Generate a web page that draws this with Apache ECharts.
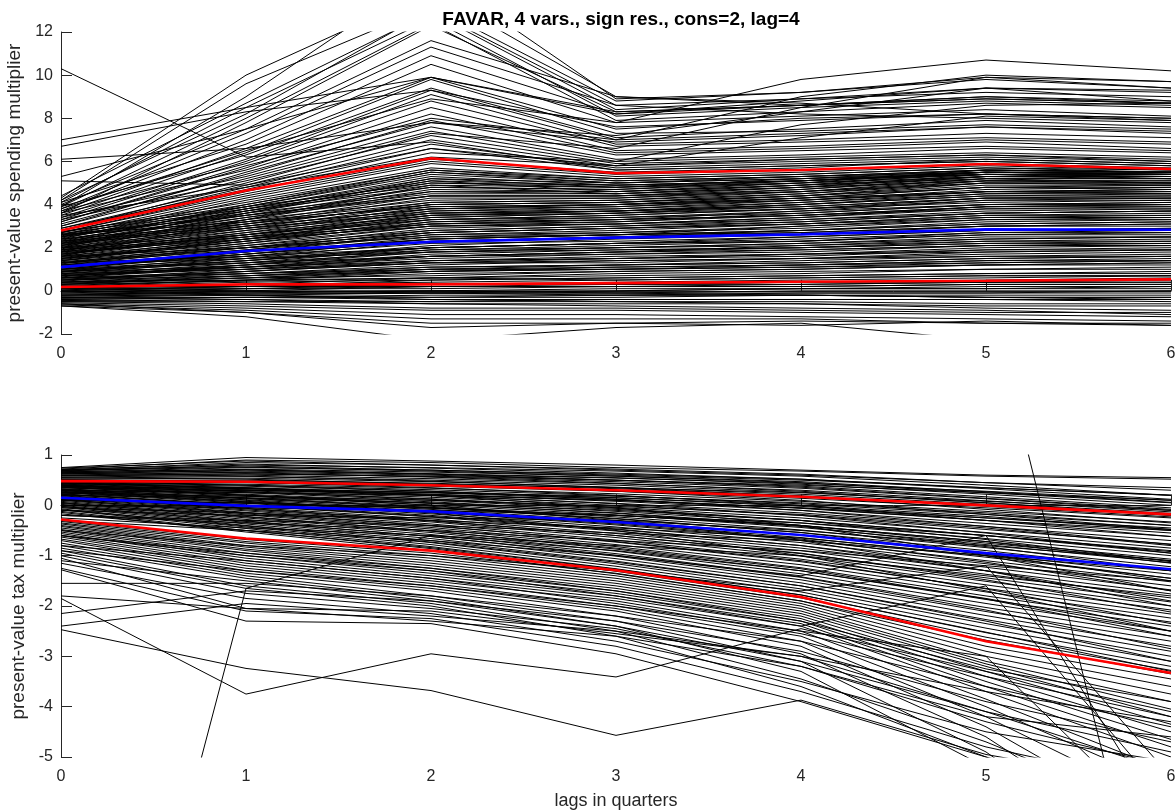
<!DOCTYPE html>
<html>
<head>
<meta charset="utf-8">
<title>FAVAR present-value multipliers</title>
<script src="https://cdn.jsdelivr.net/npm/echarts@6/dist/echarts.min.js"></script>
<style>
  html, body { margin: 0; padding: 0; background: #ffffff; }
  #chart { width: 1176px; height: 812px; }
</style>
</head>
<body>
<div id="chart"></div>
<script>
// Horizon (quarters) shared by every path
const lags = [0, 1, 2, 3, 4, 5, 6];
const xTickLabels = ['0', '1', '2', '3', '4', '5', '6'];

// ---- spending multiplier draws ----
const spendHighDraws = [
  [10.3, 6.2, 6.9, 5.6, 5.8, 6.0, 5.8],
  [7.0, 8.5, 9.9, 8.2, 8.6, 9.0, 8.8],
  [6.7, 8.3, 9.3, 7.6, 7.9, 8.2, 8.0],
  [6.1, 6.6, 7.8, 6.9, 7.2, 7.6, 7.3],
  [5.3, 7.5, 9.9, 8.3, 8.6, 9.0, 8.7],
  [5.1, 4.9, 6.6, 5.8, 6.1, 6.3, 6.0],
  [4.3, 10.0, 13.9, 9.0, 8.6, 8.9, 8.7],
  [4.2, 9.6, 13.2, 8.8, 9.2, 9.9, 9.7],
  [4.4, 8.7, 12.9, 8.4, 8.9, 9.4, 9.2],
  [4.1, 8.5, 12.6, 8.1, 8.5, 8.8, 8.6],
  [3.9, 8.0, 12.4, 7.9, 8.3, 8.7, 8.5],
  [4.0, 7.5, 11.6, 9.0, 8.7, 8.2, 7.9],
  [3.8, 7.3, 11.3, 8.6, 8.2, 8.0, 7.8],
  [3.7, 7.0, 10.9, 8.2, 8.8, 9.4, 9.3],
  [4.1, 6.8, 10.5, 7.8, 8.1, 8.4, 8.1],
  [3.6, 6.6, 9.9, 7.5, 8.0, 8.2, 8.0],
  [3.5, 6.4, 9.8, 7.3, 7.4, 7.7, 7.5],
  [3.9, 6.3, 9.4, 7.1, 7.5, 7.9, 7.6],
  [3.4, 6.1, 9.3, 7.0, 7.3, 7.6, 7.4],
  [3.3, 6.0, 9.1, 6.8, 7.0, 7.3, 7.1],
  [3.7, 5.9, 8.8, 6.7, 6.9, 7.1, 6.9],
  [3.2, 5.7, 8.5, 6.5, 6.7, 7.0, 6.8],
  [3.6, 5.6, 8.2, 6.4, 6.6, 6.9, 6.6],
  [3.1, 5.4, 7.9, 6.3, 6.5, 6.7, 6.5],
  [3.4, 5.3, 7.6, 6.1, 6.3, 6.6, 6.4],
  [3.0, 5.2, 7.4, 6.0, 6.2, 6.4, 6.2],
  [3.3, 5.1, 7.2, 5.9, 6.1, 6.3, 6.1],
  [2.9, 4.9, 7.0, 5.8, 6.0, 6.2, 6.0],
  [3.5, 4.8, 6.8, 5.7, 5.9, 6.1, 5.9],
  [2.9, 4.7, 6.6, 5.6, 5.8, 6.0, 5.8],
  [3.8, 6.5, 8.9, 7.8, 9.8, 10.7, 10.2],
  [3.2, 5.8, 8.0, 7.0, 9.0, 10.0, 9.7],
  [2.8, 5.0, 7.3, 6.6, 8.5, 9.9, 9.4],
  [3.0, 5.5, 7.8, 7.2, 8.3, 9.4, 8.8],
  [2.7, 4.6, 6.4, 6.0, 7.7, 8.6, 8.7],
  [2.8, 4.8, 6.2, 5.8, 7.1, 8.1, 7.9],
  [3.9, 9.0, 14.8, 8.9, 9.2, 9.8, 9.4],
  [4.2, 8.2, 13.0, 8.6, 8.9, 9.2, 9.0],
  [3.6, 7.8, 12.3, 8.3, 8.6, 8.9, 8.7]
];
const spendMidDraws = [
  [0.2, 0.4, 0.5, 0.6, 0.7, 0.8, 0.9],
  [0.25, 0.5, 0.8, 0.9, 1.0, 1.2, 1.3],
  [0.3, 0.45, 0.6, 0.5, 0.6, 0.7, 0.7],
  [0.3, 0.7, 1.1, 1.2, 1.4, 1.6, 1.6],
  [0.35, 0.6, 0.9, 1.0, 1.1, 1.3, 1.4],
  [0.4, 0.8, 1.2, 1.4, 1.5, 1.8, 1.9],
  [0.4, 0.5, 0.6, 0.8, 0.9, 1.0, 1.0],
  [0.45, 0.9, 1.4, 1.5, 1.7, 2.0, 2.1],
  [0.5, 0.7, 0.9, 1.1, 1.2, 1.4, 1.4],
  [0.5, 1.0, 1.6, 1.8, 2.1, 2.4, 2.5],
  [0.55, 0.8, 1.1, 1.2, 1.3, 1.5, 1.6],
  [0.6, 1.1, 1.7, 1.9, 2.0, 2.3, 2.3],
  [0.6, 0.9, 1.3, 1.3, 1.5, 1.7, 1.8],
  [0.65, 1.2, 1.9, 2.1, 2.3, 2.7, 2.8],
  [0.7, 1.0, 1.4, 1.6, 1.7, 1.9, 2.0],
  [0.7, 1.3, 2.0, 2.2, 2.5, 2.8, 2.9],
  [0.75, 1.1, 1.5, 1.7, 1.9, 2.1, 2.2],
  [0.8, 1.4, 2.1, 2.4, 2.6, 3.0, 3.1],
  [0.8, 1.2, 1.6, 1.8, 2.0, 2.2, 2.2],
  [0.85, 1.5, 2.3, 2.5, 2.8, 3.2, 3.3],
  [0.9, 1.3, 1.8, 2.0, 2.1, 2.3, 2.4],
  [0.9, 1.6, 2.4, 2.6, 3.0, 3.4, 3.5],
  [0.95, 1.4, 1.9, 2.0, 2.2, 2.5, 2.5],
  [1.0, 1.7, 2.5, 2.7, 2.9, 3.3, 3.4],
  [1.0, 1.5, 2.0, 2.2, 2.4, 2.7, 2.7],
  [1.05, 1.8, 2.7, 2.9, 3.2, 3.6, 3.7],
  [1.1, 1.6, 2.2, 2.3, 2.5, 2.8, 2.9],
  [1.1, 1.9, 2.8, 3.0, 3.3, 3.7, 3.8],
  [1.15, 1.7, 2.3, 2.5, 2.7, 3.0, 3.0],
  [1.2, 2.0, 2.9, 3.1, 3.4, 3.9, 4.0],
  [1.2, 1.8, 2.4, 2.6, 2.8, 3.1, 3.2],
  [1.25, 2.1, 3.0, 3.2, 3.6, 4.0, 4.1],
  [1.3, 1.9, 2.6, 2.7, 3.0, 3.3, 3.3],
  [1.3, 2.2, 3.2, 3.3, 3.7, 4.2, 4.3],
  [1.35, 2.0, 2.7, 2.9, 3.1, 3.5, 3.5],
  [1.4, 2.3, 3.3, 3.5, 3.8, 4.3, 4.4],
  [1.4, 2.1, 2.8, 3.0, 3.2, 3.6, 3.7],
  [1.45, 2.4, 3.4, 3.6, 4.0, 4.5, 4.5],
  [1.5, 2.2, 3.0, 3.1, 3.4, 3.8, 3.8],
  [1.5, 2.5, 3.6, 3.7, 4.1, 4.6, 4.7],
  [1.55, 2.3, 3.1, 3.3, 3.5, 3.9, 4.0],
  [1.6, 2.6, 3.7, 3.8, 4.2, 4.7, 4.8],
  [1.6, 2.4, 3.2, 3.4, 3.6, 4.0, 4.1],
  [1.65, 2.7, 3.8, 3.9, 4.3, 4.8, 4.9],
  [1.7, 2.5, 3.3, 3.5, 3.8, 4.2, 4.2],
  [1.7, 2.8, 3.9, 4.0, 4.4, 5.0, 5.0],
  [1.75, 2.6, 3.4, 3.6, 3.9, 4.3, 4.3],
  [1.8, 2.9, 4.0, 4.1, 4.5, 5.1, 5.1],
  [1.8, 2.7, 3.5, 3.7, 4.0, 4.4, 4.4],
  [1.85, 3.0, 4.1, 4.2, 4.6, 5.2, 5.2],
  [1.9, 2.8, 3.6, 3.8, 4.1, 4.5, 4.6],
  [1.9, 3.1, 4.3, 4.3, 4.7, 5.3, 5.3],
  [1.95, 2.9, 3.7, 3.9, 4.2, 4.6, 4.7],
  [2.0, 3.2, 4.4, 4.4, 4.8, 5.4, 5.4],
  [2.0, 3.0, 3.8, 4.0, 4.3, 4.8, 4.8],
  [2.05, 3.3, 4.6, 4.5, 4.9, 5.5, 5.5],
  [2.1, 3.1, 4.0, 4.1, 4.4, 4.9, 4.9],
  [2.1, 3.4, 4.7, 4.6, 5.0, 5.6, 5.5],
  [2.15, 3.2, 4.1, 4.2, 4.5, 5.0, 5.0],
  [2.2, 3.5, 4.8, 4.7, 5.1, 5.5, 5.4],
  [2.2, 3.3, 4.2, 4.3, 4.6, 5.1, 5.1],
  [2.25, 3.6, 5.0, 4.8, 5.2, 5.6, 5.5],
  [2.3, 3.4, 4.4, 4.4, 4.7, 5.2, 5.2],
  [2.35, 3.7, 5.1, 4.9, 5.1, 5.5, 5.4],
  [2.4, 3.5, 4.5, 4.5, 4.8, 5.3, 5.3],
  [2.45, 3.8, 5.2, 5.0, 5.2, 5.5, 5.5],
  [2.5, 3.6, 4.6, 4.6, 4.9, 5.3, 5.3],
  [2.5, 3.9, 5.4, 5.0, 5.3, 5.6, 5.5],
  [2.55, 3.7, 4.8, 4.7, 5.0, 5.4, 5.3],
  [2.6, 4.0, 5.5, 5.1, 5.3, 5.6, 5.5],
  [2.65, 3.8, 4.9, 4.8, 5.1, 5.4, 5.4],
  [2.7, 4.1, 5.6, 5.2, 5.4, 5.7, 5.6],
  [2.75, 3.9, 5.0, 4.9, 5.1, 5.5, 5.4],
  [2.3, 3.0, 3.8, 4.0, 4.2, 4.6, 4.5],
  [1.3, 1.6, 2.0, 2.2, 2.3, 2.6, 2.7],
  [0.6, 0.8, 1.0, 1.1, 1.2, 1.4, 1.5],
  [1.9, 2.5, 3.1, 3.3, 3.5, 3.9, 3.9],
  [1.0, 1.3, 1.6, 1.7, 1.8, 2.1, 2.1],
  [2.6, 3.2, 3.9, 4.0, 4.3, 4.6, 4.6],
  [0.4, 0.6, 0.7, 0.9, 1.0, 1.2, 1.2],
  [2.5, 4.3, 5.9, 5.3, 5.5, 5.8, 5.6],
  [2.4, 4.2, 5.7, 5.2, 5.4, 5.7, 5.5],
  [2.6, 4.4, 6.0, 5.4, 5.6, 5.9, 5.7],
  [2.2, 4.0, 5.6, 5.1, 5.3, 5.5, 5.4],
  [2.0, 3.8, 5.3, 4.9, 5.1, 5.4, 5.3],
  [1.8, 3.6, 5.2, 4.8, 5.0, 5.3, 5.2],
  [2.3, 3.9, 5.5, 5.0, 5.2, 5.4, 5.2],
  [2.7, 4.5, 6.1, 5.5, 5.7, 6.1, 5.9],
  [2.1, 3.7, 5.1, 4.6, 4.9, 5.2, 5.0],
  [1.6, 3.3, 4.9, 4.5, 4.8, 5.1, 5.0],
  [0.1, 0.3, 0.6, 0.7, 0.8, 1.0, 1.1],
  [0.2, 0.5, 0.9, 1.0, 1.2, 1.3, 1.4],
  [0.0, 0.2, 0.5, 0.6, 0.7, 0.8, 0.8],
  [-0.1, 0.1, 0.3, 0.4, 0.5, 0.6, 0.7],
  [-0.2, 0.0, 0.2, 0.2, 0.3, 0.4, 0.5],
  [-0.3, -0.2, -0.1, 0.0, 0.1, 0.1, 0.2],
  [0.3, 0.6, 1.0, 1.2, 1.3, 1.5, 1.6],
  [0.5, 0.9, 1.3, 1.5, 1.6, 1.9, 1.9],
  [0.7, 1.1, 1.6, 1.8, 1.9, 2.1, 2.1],
  [0.9, 1.4, 2.0, 2.2, 2.3, 2.6, 2.6],
  [1.1, 1.7, 2.4, 2.6, 2.7, 3.0, 3.1],
  [1.3, 2.0, 2.7, 2.9, 3.1, 3.4, 3.4],
  [1.5, 2.3, 3.1, 3.2, 3.5, 3.8, 3.9],
  [1.7, 2.6, 3.5, 3.6, 3.8, 4.1, 4.2],
  [0.8, 1.0, 1.3, 1.4, 1.5, 1.6, 1.7],
  [1.2, 1.5, 1.8, 1.9, 2.0, 2.2, 2.3],
  [0.4, 0.7, 1.0, 1.0, 1.1, 1.2, 1.3],
  [1.6, 2.0, 2.5, 2.6, 2.8, 3.1, 3.2],
  [2.0, 2.6, 3.3, 3.4, 3.7, 4.0, 4.0],
  [2.4, 3.1, 4.0, 4.1, 4.4, 4.8, 4.7],
  [0.6, 1.2, 1.8, 2.0, 2.2, 2.4, 2.5],
  [1.0, 1.8, 2.6, 2.8, 3.1, 3.5, 3.6],
  [1.4, 2.4, 3.5, 3.7, 4.0, 4.4, 4.5],
  [-0.4, -0.3, -0.2, -0.2, -0.1, -0.1, 0.0],
  [-0.5, -0.5, -0.5, -0.4, -0.4, -0.4, -0.4],
  [0.2, 0.2, 0.3, 0.3, 0.4, 0.5, 0.6],
  [0.9, 1.1, 1.4, 1.5, 1.7, 1.8, 1.9],
  [1.8, 2.4, 3.0, 3.1, 3.3, 3.6, 3.7],
  [2.2, 2.9, 3.6, 3.7, 3.9, 4.3, 4.3],
  [2.6, 3.5, 4.4, 4.4, 4.6, 5.0, 4.9]
];
const spendLowDraws = [
  [0.15, 0.2, 0.2, 0.3, 0.3, 0.4, 0.4],
  [0.1, 0.1, 0.1, 0.2, 0.2, 0.3, 0.3],
  [0.05, 0.2, 0.3, 0.3, 0.4, 0.4, 0.4],
  [0.0, 0.0, 0.0, 0.1, 0.1, 0.2, 0.2],
  [-0.05, 0.1, 0.2, 0.2, 0.2, 0.3, 0.3],
  [-0.1, -0.1, -0.1, -0.1, 0.0, 0.0, 0.0],
  [-0.15, -0.05, 0.0, 0.0, 0.1, 0.1, 0.1],
  [-0.2, -0.2, -0.3, -0.3, -0.2, -0.2, -0.2],
  [-0.25, -0.15, -0.1, -0.1, -0.1, -0.1, -0.1],
  [-0.3, -0.3, -0.4, -0.4, -0.4, -0.4, -0.5],
  [-0.35, -0.3, -0.3, -0.2, -0.2, -0.3, -0.3],
  [-0.4, -0.5, -0.6, -0.6, -0.6, -0.7, -0.7],
  [-0.45, -0.4, -0.5, -0.5, -0.5, -0.6, -0.6],
  [-0.5, -0.6, -0.8, -0.8, -0.9, -1.0, -1.0],
  [-0.55, -0.7, -0.9, -0.9, -1.0, -1.1, -1.2],
  [-0.6, -0.8, -1.1, -1.1, -1.2, -1.3, -1.4],
  [-0.65, -0.9, -1.3, -1.3, -1.3, -1.5, -1.6],
  [-0.7, -1.0, -1.7, -1.5, -1.4, -1.5, -1.5],
  [-0.7, -1.2, -2.3, -1.7, -1.5, -2.3, -2.5],
  [-0.6, -1.0, -1.5, -1.5, -1.6, -1.4, -1.6],
  [0.0, -0.2, -0.4, -0.5, -0.6, -0.8, -0.9],
  [0.1, 0.0, -0.1, -0.2, -0.2, -0.3, -0.4],
  [-0.3, -0.4, -0.6, -0.7, -0.8, -0.9, -1.1],
  [-0.2, -0.1, 0.0, -0.1, -0.2, -0.3, -0.3],
  [0.15, 0.3, 0.4, 0.5, 0.6, 0.7, 0.7]
];
// spending bands: upper, median, lower
const spendUpper = [2.8, 4.65, 6.15, 5.45, 5.6, 5.88, 5.65];
const spendMedian = [1.1, 1.85, 2.27, 2.47, 2.62, 2.85, 2.83];
const spendLower = [0.18, 0.3, 0.3, 0.36, 0.42, 0.47, 0.53];

// ---- tax multiplier draws ----
const taxHighDraws = [
  [0.75, 0.95, 0.88, 0.8, 0.7, 0.6, 0.55],
  [0.72, 0.9, 0.85, 0.75, 0.68, 0.58, 0.52],
  [0.7, 0.85, 0.8, 0.72, 0.62, 0.45, 0.3],
  [0.68, 0.8, 0.75, 0.68, 0.58, 0.4, 0.2],
  [0.66, 0.75, 0.7, 0.62, 0.52, 0.33, 0.12],
  [0.64, 0.72, 0.66, 0.58, 0.47, 0.27, 0.06],
  [0.62, 0.7, 0.63, 0.55, 0.42, 0.22, 0.0],
  [0.6, 0.66, 0.6, 0.5, 0.38, 0.17, -0.05],
  [0.58, 0.63, 0.57, 0.47, 0.34, 0.13, -0.1],
  [0.56, 0.6, 0.53, 0.43, 0.3, 0.09, -0.13],
  [0.54, 0.57, 0.5, 0.4, 0.26, 0.05, -0.16],
  [0.52, 0.54, 0.47, 0.36, 0.22, 0.02, -0.2],
  [0.5, 0.5, 0.44, 0.33, 0.19, -0.02, -0.23],
  [0.7, 0.78, 0.7, 0.6, 0.5, 0.35, 0.2],
  [0.65, 0.68, 0.62, 0.54, 0.44, 0.28, 0.1],
  [0.74, 0.88, 0.8, 0.7, 0.6, 0.45, 0.35],
  [0.71, 0.82, 0.74, 0.64, 0.52, 0.35, 0.2],
  [0.69, 0.76, 0.68, 0.58, 0.45, 0.25, 0.05],
  [0.67, 0.71, 0.62, 0.5, 0.36, 0.14, -0.08],
  [0.63, 0.65, 0.56, 0.44, 0.28, 0.05, -0.2],
  [0.6, 0.62, 0.58, 0.5, 0.4, 0.25, 0.1],
  [0.5, 0.48, 0.42, 0.35, 0.25, 0.08, -0.1]
];
const taxMidDraws = [
  [0.47, 0.45, 0.38, 0.28, 0.14, -0.05, -0.25],
  [0.46, 0.42, 0.34, 0.23, 0.08, -0.12, -0.33],
  [0.45, 0.4, 0.31, 0.19, 0.03, -0.18, -0.4],
  [0.44, 0.38, 0.28, 0.15, -0.02, -0.25, -0.48],
  [0.43, 0.35, 0.25, 0.12, -0.06, -0.3, -0.55],
  [0.42, 0.33, 0.22, 0.08, -0.1, -0.36, -0.62],
  [0.41, 0.31, 0.19, 0.04, -0.15, -0.42, -0.7],
  [0.4, 0.29, 0.16, 0.0, -0.2, -0.48, -0.77],
  [0.38, 0.27, 0.13, -0.04, -0.25, -0.54, -0.85],
  [0.37, 0.25, 0.1, -0.08, -0.3, -0.6, -0.92],
  [0.36, 0.22, 0.07, -0.12, -0.35, -0.66, -1.0],
  [0.35, 0.2, 0.04, -0.15, -0.4, -0.72, -1.07],
  [0.33, 0.18, 0.01, -0.19, -0.44, -0.78, -1.14],
  [0.32, 0.15, -0.02, -0.23, -0.49, -0.84, -1.22],
  [0.3, 0.13, -0.05, -0.27, -0.54, -0.9, -1.3],
  [0.29, 0.11, -0.08, -0.31, -0.59, -0.97, -1.37],
  [0.28, 0.08, -0.11, -0.35, -0.64, -1.03, -1.45],
  [0.26, 0.06, -0.14, -0.39, -0.69, -1.1, -1.52],
  [0.25, 0.04, -0.17, -0.43, -0.74, -1.16, -1.6],
  [0.23, 0.01, -0.2, -0.47, -0.8, -1.23, -1.68],
  [0.22, -0.01, -0.23, -0.51, -0.85, -1.3, -1.76],
  [0.2, -0.04, -0.27, -0.56, -0.9, -1.37, -1.84],
  [0.19, -0.06, -0.3, -0.6, -0.96, -1.44, -1.92],
  [0.17, -0.09, -0.33, -0.64, -1.01, -1.51, -2.0],
  [0.15, -0.11, -0.37, -0.69, -1.07, -1.58, -2.08],
  [0.14, -0.14, -0.4, -0.73, -1.12, -1.65, -2.16],
  [0.12, -0.17, -0.44, -0.78, -1.18, -1.72, -2.24],
  [0.1, -0.19, -0.47, -0.82, -1.24, -1.8, -2.32],
  [0.08, -0.22, -0.51, -0.87, -1.3, -1.87, -2.4],
  [0.06, -0.25, -0.54, -0.91, -1.36, -1.95, -2.5],
  [0.04, -0.28, -0.58, -0.96, -1.42, -2.03, -2.6],
  [0.02, -0.31, -0.62, -1.01, -1.48, -2.11, -2.7],
  [0.0, -0.34, -0.66, -1.06, -1.54, -2.19, -2.8],
  [-0.02, -0.37, -0.7, -1.11, -1.6, -2.27, -2.9],
  [-0.04, -0.4, -0.74, -1.16, -1.66, -2.35, -3.0],
  [-0.07, -0.43, -0.78, -1.21, -1.72, -2.44, -3.1],
  [-0.09, -0.46, -0.82, -1.26, -1.78, -2.53, -3.2],
  [-0.12, -0.5, -0.86, -1.31, -1.84, -2.62, -3.28],
  [-0.14, -0.53, -0.9, -1.36, -1.9, -2.68, -3.35],
  [0.0, -0.05, -0.1, -0.2, -0.35, -0.6, -0.9],
  [-0.1, -0.2, -0.25, -0.3, -0.5, -0.8, -1.1],
  [-0.2, -0.3, -0.4, -0.55, -0.7, -1.0, -1.3],
  [0.3, 0.25, 0.2, 0.1, -0.05, -0.3, -0.5],
  [-0.25, -0.45, -0.6, -0.8, -1.0, -1.4, -1.8],
  [0.1, 0.05, -0.05, -0.2, -0.4, -0.75, -1.1],
  [0.2, 0.15, 0.05, -0.1, -0.3, -0.6, -0.95],
  [-0.05, -0.15, -0.3, -0.45, -0.65, -1.0, -1.45],
  [0.35, 0.3, 0.25, 0.18, 0.05, -0.15, -0.4],
  [0.25, 0.3, 0.22, 0.1, -0.05, -0.25, -0.45],
  [0.4, 0.2, 0.0, -0.3, -0.7, -1.3, -2.0],
  [-0.2, -0.35, -0.5, -0.7, -0.9, -1.2, -1.5],
  [0.3, 0.1, -0.15, -0.5, -1.0, -1.7, -2.5],
  [0.45, 0.35, 0.2, -0.05, -0.4, -1.0, -1.7],
  [0.59, 0.58, 0.48, 0.35, 0.18, -0.08, -0.35],
  [0.55, 0.52, 0.42, 0.28, 0.1, -0.18, -0.48],
  [0.51, 0.46, 0.35, 0.2, 0.0, -0.3, -0.62],
  [0.48, 0.4, 0.28, 0.12, -0.1, -0.42, -0.78],
  [0.44, 0.34, 0.2, 0.03, -0.2, -0.55, -0.95],
  [0.4, 0.27, 0.12, -0.06, -0.3, -0.68, -1.12],
  [0.36, 0.2, 0.04, -0.16, -0.42, -0.82, -1.3],
  [0.32, 0.14, -0.04, -0.26, -0.54, -0.97, -1.5],
  [0.27, 0.07, -0.13, -0.37, -0.67, -1.13, -1.7],
  [0.22, 0.0, -0.22, -0.48, -0.8, -1.3, -1.9],
  [0.17, -0.07, -0.31, -0.6, -0.95, -1.48, -2.12],
  [0.11, -0.15, -0.41, -0.72, -1.1, -1.66, -2.35],
  [0.05, -0.23, -0.51, -0.85, -1.26, -1.86, -2.6],
  [-0.02, -0.32, -0.62, -0.99, -1.43, -2.08, -2.85],
  [-0.09, -0.41, -0.73, -1.13, -1.6, -2.3, -3.1],
  [-0.17, -0.5, -0.84, -1.27, -1.78, -2.52, -3.3],
  [0.38, 0.33, 0.26, 0.15, 0.0, -0.22, -0.5],
  [0.24, 0.18, 0.1, -0.02, -0.18, -0.45, -0.8],
  [0.12, 0.04, -0.06, -0.2, -0.4, -0.72, -1.15]
];
const taxLowDraws = [
  [-0.3, -0.68, -0.95, -1.35, -1.9, -2.8, -3.45],
  [-0.32, -0.72, -1.0, -1.4, -1.95, -2.9, -3.6],
  [-0.35, -0.75, -1.05, -1.45, -2.0, -3.0, -3.75],
  [-0.37, -0.8, -1.1, -1.5, -2.05, -3.1, -3.9],
  [-0.4, -0.83, -1.15, -1.55, -2.1, -3.15, -4.05],
  [-0.42, -0.87, -1.2, -1.6, -2.15, -3.2, -4.2],
  [-0.45, -0.9, -1.25, -1.65, -2.2, -3.3, -4.35],
  [-0.48, -0.95, -1.3, -1.7, -2.25, -3.4, -4.5],
  [-0.5, -1.0, -1.35, -1.75, -2.3, -3.5, -4.65],
  [-0.53, -1.05, -1.4, -1.8, -2.35, -3.6, -4.8],
  [-0.56, -1.1, -1.45, -1.85, -2.4, -3.7, -5.0],
  [-0.6, -1.15, -1.5, -1.9, -2.5, -3.85, -5.3],
  [-0.63, -1.2, -1.55, -2.0, -2.6, -4.0, -5.6],
  [-0.67, -1.25, -1.6, -2.05, -2.7, -4.2, -6.0],
  [-0.7, -1.3, -1.65, -2.1, -2.8, -4.4, -6.5],
  [-0.75, -1.35, -1.7, -2.2, -2.95, -4.6, -7.0],
  [-0.8, -1.4, -1.8, -2.3, -3.1, -4.9, -7.5],
  [-0.85, -1.45, -1.85, -2.4, -3.3, -5.2, -8.0],
  [-0.9, -1.6, -1.95, -2.5, -3.45, -4.7, -6.2],
  [-0.95, -1.65, -2.0, -2.6, -3.6, -5.0, -6.8],
  [-1.0, -1.75, -2.05, -2.45, -3.2, -4.3, -5.2],
  [-1.05, -2.05, -2.1, -2.55, -3.0, -4.1, -4.9],
  [-1.15, -1.85, -2.15, -2.7, -3.5, -4.5, -5.1],
  [-1.25, -2.1, -2.25, -2.8, -3.7, -4.8, -5.6],
  [-1.28, -2.3, -2.35, -2.95, -3.9, -5.0, -5.9],
  [-1.55, -1.55, -1.8, -2.2, -2.7, -3.6, -4.4],
  [-1.8, -2.05, -2.3, -2.6, -3.2, -4.2, -4.6],
  [-2.15, -1.7, -1.9, -2.3, -2.9, -3.9, -4.7],
  [-2.4, -1.95, -2.2, -2.5, -3.0, -3.7, -4.3],
  [-2.47, -3.24, -3.68, -4.57, -3.87, -4.95, -5.6],
  [-1.85, -3.75, -2.95, -3.41, -2.45, -3.3, -4.1],
  [-15.6, -1.65, -0.6, -0.9, -1.3, -1.85, -2.5],
  [1.3, 1.4, 1.5, 1.6, 2.2, 4.4, -10.4],
  [-0.5, -0.8, -1.0, -1.3, -1.7, -1.2, -5.4],
  [-0.3, -0.5, -0.7, -1.0, -1.4, -0.6, -6.5],
  [-0.6, -1.0, -1.3, -1.8, -2.4, -1.6, -5.9],
  [-0.9, -1.3, -1.6, -2.0, -2.5, -3.0, -6.6],
  [-1.1, -1.5, -1.9, -2.4, -3.1, -4.1, -5.3],
  [-0.8, -1.1, -1.45, -1.95, -2.55, -3.4, -4.2],
  [-0.6, -0.95, -1.25, -1.7, -2.3, -3.25, -3.9]
];
// tax bands: upper, median, lower
const taxUpper = [0.48, 0.47, 0.4, 0.3, 0.17, 0.0, -0.18];
const taxMedian = [0.15, -0.01, -0.12, -0.33, -0.59, -0.95, -1.27];
const taxLower = [-0.28, -0.66, -0.9, -1.29, -1.82, -2.7, -3.33];

// ---- helpers that turn the arrays into line series ----
const INK = '#262626';
const FONT = '"Liberation Sans", Arial, Helvetica, sans-serif';
const PLOT_LEFT = 61;
const PLOT_WIDTH = 1110;

function toPoints(values) {
  return values.map((v, i) => [lags[i], v]);
}
function drawSeries(values, panel) {
  return {
    type: 'line', xAxisIndex: panel, yAxisIndex: panel,
    data: toPoints(values), showSymbol: false, symbol: 'none',
    silent: true, z: 2, clip: true,
    lineStyle: { color: '#000000', width: 1 }
  };
}
function bandSeries(values, panel, color) {
  return {
    type: 'line', xAxisIndex: panel, yAxisIndex: panel,
    data: toPoints(values), showSymbol: false, symbol: 'none',
    silent: true, z: 5, clip: true,
    lineStyle: { color: color, width: 2.6 }
  };
}

function xAxisFor(panel, withName) {
  return {
    type: 'value', gridIndex: panel, min: 0, max: 6, interval: 1,
    axisLine: { show: true, lineStyle: { color: INK, width: 1 } },
    axisTick: { show: true, inside: true, length: 11, lineStyle: { color: INK } },
    axisLabel: {
      margin: 12, color: INK, fontSize: 16, fontFamily: FONT,
      formatter: v => xTickLabels[Math.round(v)]
    },
    splitLine: { show: false },
    name: withName ? 'lags in quarters' : '',
    nameLocation: 'middle', nameGap: 35,
    nameTextStyle: { color: INK, fontSize: 18, fontFamily: FONT }
  };
}
function yAxisFor(panel, min, max, step, label) {
  return {
    type: 'value', gridIndex: panel, min: min, max: max, interval: step,
    axisLine: { show: true, onZero: false, lineStyle: { color: INK, width: 1 } },
    axisTick: { show: true, inside: true, length: 11, lineStyle: { color: INK } },
    axisLabel: { margin: 8, color: INK, fontSize: 16, fontFamily: FONT },
    splitLine: { show: false },
    name: label, nameLocation: 'middle', nameRotate: 90, nameGap: 31,
    nameTextStyle: { color: INK, fontSize: 19, fontFamily: FONT }
  };
}

const series = [];
spendHighDraws.concat(spendMidDraws, spendLowDraws).forEach(d => series.push(drawSeries(d, 0)));
taxHighDraws.concat(taxMidDraws, taxLowDraws).forEach(d => series.push(drawSeries(d, 1)));
series.push(bandSeries(spendUpper, 0, '#ff0000'));
series.push(bandSeries(spendLower, 0, '#ff0000'));
series.push(bandSeries(spendMedian, 0, '#0000ff'));
series.push(bandSeries(taxUpper, 1, '#ff0000'));
series.push(bandSeries(taxLower, 1, '#ff0000'));
series.push(bandSeries(taxMedian, 1, '#0000ff'));

const chart = echarts.init(document.getElementById('chart'), null, { renderer: 'canvas' });
chart.setOption({
  animation: false,
  backgroundColor: '#ffffff',
  title: {
    text: 'FAVAR, 4 vars., sign res., cons=2, lag=4',
    left: PLOT_LEFT + PLOT_WIDTH / 2, top: 5, textAlign: 'center',
    textStyle: { color: '#000000', fontSize: 19, fontWeight: 'bold', fontFamily: FONT }
  },
  grid: [
    { left: PLOT_LEFT, top: 32, width: PLOT_WIDTH, height: 302, containLabel: false, outerBoundsMode: 'none' },
    { left: PLOT_LEFT, top: 455, width: PLOT_WIDTH, height: 302, containLabel: false, outerBoundsMode: 'none' }
  ],
  xAxis: [xAxisFor(0, false), xAxisFor(1, true)],
  yAxis: [
    yAxisFor(0, -2, 12, 2, 'present-value spending multiplier'),
    yAxisFor(1, -5, 1, 1, 'present-value tax multiplier')
  ],
  series: series
});
</script>
</body>
</html>
